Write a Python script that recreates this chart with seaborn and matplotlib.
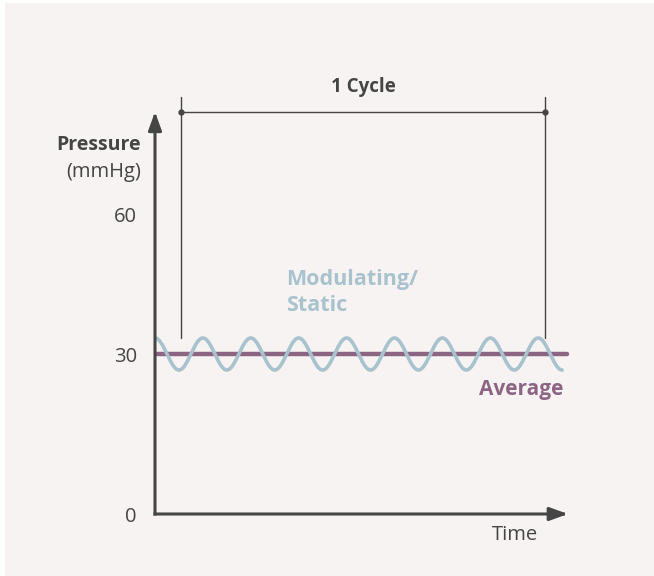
import numpy as np
import pandas as pd
import matplotlib
matplotlib.use("Agg")
import matplotlib.pyplot as plt
from matplotlib.patches import Rectangle
import seaborn as sns

# ---- data ----
average_pressure = 30          # mmHg
modulation_amplitude = 3       # mmHg
n_half_cycles = 17             # wave spans 8.5 periods
time_end = n_half_cycles / 2
ytick_values = [0, 30, 56.25]
ytick_labels = ["0", "30", "60"]
cycle_start, cycle_end = 0.54, 8.14
wave_labels = ["Modulating/\nStatic", "Average"]

t = np.linspace(0, time_end, 800)
wave = pd.DataFrame({"time": t,
                     "pressure": average_pressure + modulation_amplitude * np.cos(2 * np.pi * t)})
avg = pd.DataFrame({"time": [0, 8.6], "pressure": [average_pressure, average_pressure]})

# ---- style ----
sns.set_theme(style="white")
plt.rcParams["font.family"] = ["Open Sans", "DejaVu Sans"]
BG = "#f7f3f2"
AX = "#454545"
WAVE = "#a8c2ce"
AVG = "#8b6583"

fig = plt.figure(figsize=(6.54, 5.76), dpi=100, facecolor="white")
bg = Rectangle((5 / 654, 0), 1, 573 / 576, transform=fig.transFigure,
               facecolor=BG, edgecolor="none", zorder=-10)
fig.patches.append(bg)
px_per_t = 47.9
px_per_p = 5.333
left_px, bottom_px = 155, 576 - 514
xmax, ymax = 9.5, 85
ax = fig.add_axes([left_px / 654, bottom_px / 576, xmax * px_per_t / 654, ymax * px_per_p / 576])
ax.set_zorder(5)
ax.set_facecolor("none")
ax.patch.set_alpha(0)
ax.set_xlim(0, xmax)
ax.set_ylim(0, ymax)
for s in ax.spines.values():
    s.set_visible(False)

# lines
sns.lineplot(data=avg, x="time", y="pressure", ax=ax, color=AVG, lw=3.2, zorder=3)
sns.lineplot(data=wave, x="time", y="pressure", ax=ax, color=WAVE, lw=2.6, zorder=4)

# axes arrows
arrow = dict(arrowstyle="-|>,head_length=0.55,head_width=0.2", mutation_scale=20,
             color=AX, lw=2.2, shrinkA=0, shrinkB=0, capstyle="projecting")
ax.annotate("", xy=(0, 75.4), xytext=(0, 0), arrowprops=arrow, zorder=5, annotation_clip=False)
ax.annotate("", xy=(8.62, 0), xytext=(0, 0), arrowprops=arrow, zorder=5, annotation_clip=False)

# ticks
ax.set_yticks(ytick_values)
ax.set_yticklabels(ytick_labels)
ax.set_xticks([])
ax.tick_params(axis="y", length=0, pad=13, labelsize=14.5, labelcolor=AX)
ax.set_xlabel("")
ax.set_ylabel("")

# axis titles
ax.annotate("Pressure", xy=(0, 69.2), xytext=(-14, 0), textcoords="offset pixels",
            ha="right", va="center", fontsize=14, fontweight="bold", color=AX, annotation_clip=False)
ax.annotate("(mmHg)", xy=(0, 64.1), xytext=(-14, 0), textcoords="offset pixels",
            ha="right", va="center", fontsize=14.5, color=AX, annotation_clip=False)
ax.annotate("Time", xy=(7.52, 0), xytext=(0, -21), textcoords="offset pixels",
            ha="center", va="center", fontsize=14.5, color=AX, annotation_clip=False)

# cycle bracket
for xc in (cycle_start, cycle_end):
    ax.plot([xc, xc], [33.0, 78.2], color=AX, lw=1.0, zorder=2, clip_on=False)
ax.plot([cycle_start, cycle_end], [75.4, 75.4], color=AX, lw=1.0, zorder=2,
        marker="o", markersize=3.5, clip_on=False)
ax.text((cycle_start + cycle_end) / 2, 80.0, "1 Cycle", ha="center", va="center",
        fontsize=13.5, fontweight="bold", color=AX)

# series labels
ax.text(2.73, 41.6, wave_labels[0], ha="left", va="center", fontsize=15.5,
        fontweight="bold", color=WAVE, linespacing=1.3)
ax.text(8.53, 23.4, wave_labels[1], ha="right", va="center", fontsize=15,
        fontweight="bold", color=AVG)

fig.savefig("out.png", dpi=100, facecolor=fig.get_facecolor())
